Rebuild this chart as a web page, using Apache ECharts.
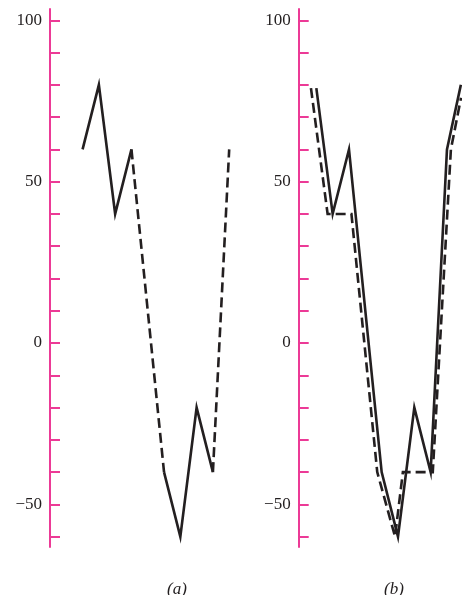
<!DOCTYPE html>
<html>
<head>
<meta charset="utf-8">
<script src="https://cdn.jsdelivr.net/npm/echarts@6/dist/echarts.min.js"></script>
<style>
html,body{margin:0;padding:0;background:#fff;}
#chart{width:462px;height:595px;}
</style>
</head>
<body>
<div id="chart"></div>
<script>
// ---- data ----
const tickValues = [-60,-50,-40,-30,-20,-10,0,10,20,30,40,50,60,70,80,90,100];
const labelValues = [-50,0,50,100];
const captions = ['(a)','(b)'];

// panel (a): [sample index, value]
const aSolid1 = [[2,60],[3,80],[4,40],[5,60]];
const aSolid2 = [[7,-40],[8,-60],[9,-20],[10,-40]];
const aDash1 = [[5,60],[7,-40]];
const aDash2 = [[10,-40],[11,60]];

// panel (b)
const bSolid = [[1,79],[2,40],[3,60],[5,-40],[6,-60],[7,-20],[8,-40],[9,60],[9.85,80]];
const bDash = [[0.67,79],[1.69,40],[3.15,40],[4.73,-40],[5.82,-60],[6.3,-40],[8.13,-40],[9.24,60],[9.86,76]];

// ---- style ----
const pink = '#ec3a96';
const ink = '#231f20';
const serif = '"Liberation Serif", "DejaVu Serif", serif';

function yAx(i){
  return {
    gridIndex:i, type:'value', min:-63.2, max:103.5,
    axisLine:{show:true, onZero:false, lineStyle:{color:pink,width:2}},
    axisTick:{show:true, inside:true, length:10, customValues:tickValues, lineStyle:{color:pink,width:2}},
    axisLabel:{customValues:labelValues, margin:8, color:ink, fontFamily:serif, fontSize:17,
      formatter:v => v < 0 ? '\u2212' + Math.abs(v) : String(v)},
    splitLine:{show:false}
  };
}
function xAx(i, min, max){
  return {gridIndex:i, type:'value', min:min, max:max, show:false,
    axisLine:{onZero:false}, splitLine:{show:false}};
}
function line(i, data, dashed){
  return {
    type:'line', xAxisIndex:i, yAxisIndex:i, data:data, showSymbol:false, symbol:'none',
    clip:false, animation:false, silent:true,
    lineStyle:{color:ink, width:2.6, type: dashed ? [10,5] : 'solid', join:'miter', cap:'butt'}
  };
}

const chart = echarts.init(document.getElementById('chart'), null, {renderer:'canvas'});
chart.setOption({
  animation:false,
  backgroundColor:'#fff',
  grid:[
    {left:50, top:9, width:179.2, height:538},
    {left:298.7, top:9, width:164, height:538}
  ],
  xAxis:[xAx(0,0,11), xAx(1,-0.08,9.92)],
  yAxis:[yAx(0), yAx(1)],
  series:[
    line(0,aSolid1,false), line(0,aSolid2,false),
    line(0,aDash1,true), line(0,aDash2,true),
    line(1,bSolid,false), line(1,bDash,true)
  ],
  graphic:[
    {type:'text', x:177, y:590, style:{text:captions[0], fill:ink, font:'italic 17px ' + serif, textAlign:'center', textVerticalAlign:'middle'}},
    {type:'text', x:394, y:590, style:{text:captions[1], fill:ink, font:'italic 17px ' + serif, textAlign:'center', textVerticalAlign:'middle'}}
  ]
});
</script>
</body>
</html>
